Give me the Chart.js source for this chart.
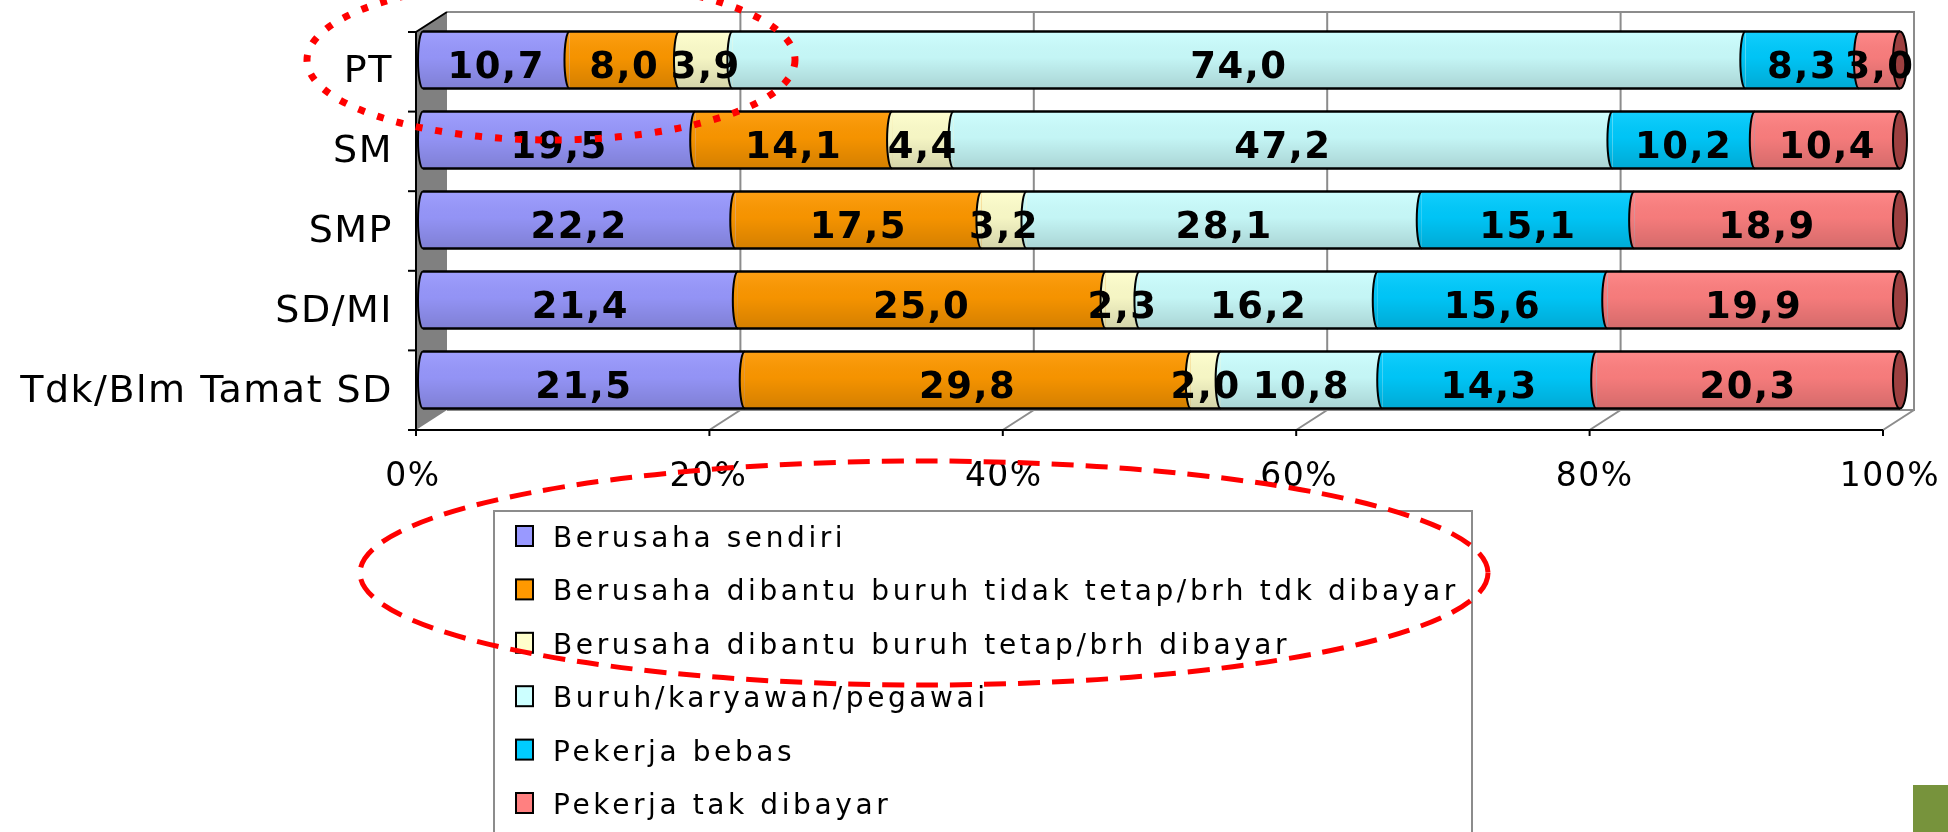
<!DOCTYPE html>
<html>
<head>
<meta charset="utf-8">
<script src="https://cdn.jsdelivr.net/npm/chart.js@4.4.1/dist/chart.umd.min.js"></script>
<style>
  html, body { margin: 0; padding: 0; background: #fff; }
  #wrap { width: 1948px; height: 832px; }
</style>
</head>
<body>
<div id="wrap"><canvas id="chart" width="1948" height="832"></canvas></div>
<script>
// categories (top to bottom)
const categories = ["PT", "SM", "SMP", "SD/MI", "Tdk/Blm Tamat SD"];

// series names as in the legend
const seriesNames = [
  "Berusaha sendiri",
  "Berusaha dibantu buruh tidak tetap/brh tdk dibayar",
  "Berusaha dibantu buruh tetap/brh dibayar",
  "Buruh/karyawan/pegawai",
  "Pekerja bebas",
  "Pekerja tak dibayar"
];

// values shown on the bars (percent)
const berusahaSendiri   = [10.7, 19.5, 22.2, 21.4, 21.5];
const dibantuTidakTetap = [8.0, 14.1, 17.5, 25.0, 29.8];
const dibantuTetap      = [3.9, 4.4, 3.2, 2.3, 2.0];
const buruhKaryawan     = [74.0, 47.2, 28.1, 16.2, 10.8];
const pekerjaBebas      = [8.3, 10.2, 15.1, 15.6, 14.3];
const pekerjaTakDibayar = [3.0, 10.4, 18.9, 19.9, 20.3];

const xTicks = [0, 20, 40, 60, 80, 100];

const seriesColors = ["#9999FF", "#FF9900", "#FFFFCC", "#CCFFFF", "#00CCFF", "#FF8080"];

const seriesValues = [berusahaSendiri, dibantuTidakTetap, dibantuTetap, buruhKaryawan, pekerjaBebas, pekerjaTakDibayar];

// 100% stacked: each row is scaled to its own total
const rowTotals = categories.map((c, i) => seriesValues.reduce((s, arr) => s + arr[i], 0));

const FONT = "'DejaVu Sans', Verdana, sans-serif";
const DEPTH_X = 31, DEPTH_Y = 20;

function fmt(v) {
  return v.toFixed(1).replace(".", ",");
}

// front/back planes of the 3D box, from the chart area
function frameOf(chart) {
  const ca = chart.chartArea;
  const f = { l: ca.left - 7, r: ca.right - 17, t: ca.top + 12, b: ca.bottom + 10 };
  f.bl = f.l + DEPTH_X; f.br = f.r + DEPTH_X; f.bt = f.t - DEPTH_Y; f.bb = f.b - DEPTH_Y;
  return f;
}

function noPadding(scale) {
  scale.paddingTop = 0; scale.paddingBottom = 0;
  scale.paddingLeft = 0; scale.paddingRight = 0;
}

const spacingPlugin = {
  id: "spacing",
  beforeLayout(chart) { chart.ctx.letterSpacing = "1.5px"; },
  beforeDraw(chart) { chart.ctx.letterSpacing = "1.5px"; }
};

// walls, floor lines and axes of the 3D frame
const framePlugin = {
  id: "frame3d",
  beforeDatasetsDraw(chart) {
    const ctx = chart.ctx;
    const f = frameOf(chart);
    ctx.save();
    ctx.lineWidth = 2;
    ctx.strokeStyle = "#8c8c8c";
    // back wall
    ctx.beginPath();
    ctx.moveTo(f.bl, f.bt); ctx.lineTo(f.br, f.bt); ctx.lineTo(f.br, f.bb); ctx.lineTo(f.bl, f.bb);
    ctx.stroke();
    xTicks.forEach(v => {
      if (v === 0) return;
      const xb = f.bl + (f.br - f.bl) * v / 100;
      const xf = f.l + (f.r - f.l) * v / 100;
      ctx.beginPath();
      ctx.moveTo(xb, f.bt); ctx.lineTo(xb, f.bb); ctx.lineTo(xf, f.b);
      ctx.stroke();
    });
    // left wall
    ctx.fillStyle = "#808080";
    ctx.beginPath();
    ctx.moveTo(f.l, f.t); ctx.lineTo(f.bl, f.bt); ctx.lineTo(f.bl, f.bb); ctx.lineTo(f.l, f.b);
    ctx.closePath();
    ctx.fill();
    ctx.strokeStyle = "#000";
    ctx.lineWidth = 2;
    ctx.beginPath();
    ctx.moveTo(f.bl, f.bt); ctx.lineTo(f.l, f.t); ctx.lineTo(f.l, f.b); ctx.lineTo(f.r, f.b);
    ctx.stroke();
    // ticks
    xTicks.forEach(v => {
      const x = f.l + (f.r - f.l) * v / 100;
      ctx.beginPath(); ctx.moveTo(x, f.b); ctx.lineTo(x, f.b + 6); ctx.stroke();
    });
    for (let k = 0; k <= categories.length; k++) {
      const y = f.t + (f.b - f.t) * k / categories.length;
      ctx.beginPath(); ctx.moveTo(f.l - 8, y); ctx.lineTo(f.l, y); ctx.stroke();
    }
    ctx.restore();
  }
};

// cylinder look: shading, rounded joins, end cap, value labels
const barPlugin = {
  id: "barLook",
  afterDatasetsDraw(chart) {
    const ctx = chart.ctx;
    const n = chart.data.datasets.length;
    ctx.save();
    categories.forEach((c, i) => {
      const els = chart.data.datasets.map((ds, d) => chart.getDatasetMeta(d).data[i]);
      const h = els[0].height;
      const y = els[0].y;
      const top = y - h / 2, bottom = y + h / 2;
      const shade = ctx.createLinearGradient(0, top, 0, bottom);
      shade.addColorStop(0, "rgba(255,255,255,0.08)");
      shade.addColorStop(0.45, "rgba(0,0,0,0.04)");
      shade.addColorStop(1, "rgba(0,0,0,0.17)");
      const rx = 5;
      els.forEach((el, d) => {
        const left = Math.min(el.x, el.base), right = Math.max(el.x, el.base);
        ctx.fillStyle = shade;
        ctx.fillRect(left, top, right - left, h);
        // rounded left edge of the segment
        ctx.beginPath();
        ctx.ellipse(left, y, rx, h / 2, 0, Math.PI / 2, Math.PI * 3 / 2);
        ctx.closePath();
        ctx.fillStyle = seriesColors[d];
        ctx.fill();
        ctx.fillStyle = shade;
        ctx.fill();
        ctx.beginPath();
        ctx.ellipse(left, y, rx, h / 2, 0, Math.PI / 2, Math.PI * 3 / 2);
        ctx.strokeStyle = "#000";
        ctx.lineWidth = 2;
        ctx.stroke();
      });
      const first = els[0], last = els[n - 1];
      const x0 = Math.min(first.x, first.base), x1 = Math.max(last.x, last.base);
      ctx.strokeStyle = "#000";
      ctx.lineWidth = 2.5;
      ctx.beginPath();
      ctx.moveTo(x0, top); ctx.lineTo(x1, top);
      ctx.moveTo(x0, bottom); ctx.lineTo(x1, bottom);
      ctx.stroke();
      // end cap
      ctx.beginPath();
      ctx.ellipse(x1, y, 7, h / 2, 0, 0, Math.PI * 2);
      ctx.fillStyle = seriesColors[n - 1];
      ctx.fill();
      ctx.fillStyle = "rgba(60,0,0,0.5)";
      ctx.fill();
      ctx.lineWidth = 2;
      ctx.stroke();
      // value labels
      ctx.fillStyle = "#000";
      ctx.font = "bold 37px " + FONT;
      ctx.textAlign = "center";
      ctx.textBaseline = "alphabetic";
      els.forEach((el, d) => {
        const cx = (el.x + el.base) / 2;
        ctx.fillText(fmt(seriesValues[d][i]), cx, y + 18);
      });
    });
    ctx.restore();
  }
};

// legend box, annotation marks
const overlayPlugin = {
  id: "overlay",
  afterDraw(chart) {
    const ctx = chart.ctx;
    ctx.save();
    // legend
    const box = { x: 494, y: 511, w: 978, h: 340 };
    ctx.fillStyle = "#fff";
    ctx.fillRect(box.x, box.y, box.w, box.h);
    ctx.strokeStyle = "#8c8c8c";
    ctx.lineWidth = 2;
    ctx.strokeRect(box.x, box.y, box.w, box.h);
    ctx.font = "28px " + FONT;
    ctx.letterSpacing = "3.6px";
    ctx.textAlign = "left";
    ctx.textBaseline = "alphabetic";
    chart.data.datasets.forEach((ds, d) => {
      const base = 547 + d * 53.4;
      ctx.fillStyle = ds.backgroundColor;
      ctx.fillRect(516, base - 21, 17, 20);
      ctx.strokeStyle = "#000";
      ctx.lineWidth = 2;
      ctx.strokeRect(516, base - 21, 17, 20);
      ctx.fillStyle = "#000";
      ctx.fillText(ds.label, 553, base);
    });
    // red dotted ellipse around PT
    ctx.strokeStyle = "#ff0000";
    ctx.lineWidth = 7;
    ctx.setLineDash([7, 13]);
    ctx.beginPath();
    ctx.ellipse(551, 60, 244, 80, 0, 0, Math.PI * 2);
    ctx.stroke();
    // red dashed ellipse around legend
    ctx.lineWidth = 5;
    ctx.setLineDash([22, 12]);
    ctx.beginPath();
    ctx.ellipse(924, 573, 564, 112, 0, 0, Math.PI * 2);
    ctx.stroke();
    ctx.setLineDash([]);
    // green corner block
    ctx.fillStyle = "#77933C";
    ctx.fillRect(1913, 785, 35, 47);
    ctx.restore();
  }
};

new Chart(document.getElementById("chart"), {
  type: "bar",
  data: {
    labels: categories,
    datasets: seriesNames.map((name, d) => ({
      label: name,
      data: seriesValues[d].map((v, i) => v / rowTotals[i] * 100),
      backgroundColor: seriesColors[d],
      borderWidth: 0,
      barPercentage: 0.7125,
      categoryPercentage: 1
    }))
  },
  options: {
    indexAxis: "y",
    responsive: false,
    animation: false,
    devicePixelRatio: 1,
    layout: { padding: { left: 0, right: 48, top: 20, bottom: 0 } },
    plugins: {
      legend: { display: false },
      tooltip: { enabled: false }
    },
    scales: {
      x: {
        stacked: true,
        min: 0,
        max: 100,
        afterBuildTicks(scale) { scale.ticks = xTicks.map(v => ({ value: v })); },
        ticks: {
          callback: v => v + "%",
          color: "#000",
          font: { family: FONT, size: 33 },
          padding: 38,
          labelOffset: -10,
          maxRotation: 0
        },
        grid: { display: false, drawTicks: false },
        border: { display: false },
        afterFit(scale) { scale.height = 412; noPadding(scale); }
      },
      y: {
        stacked: true,
        ticks: {
          color: "#000",
          font: { family: FONT, size: 38 },
          padding: 30,
          labelOffset: 12
        },
        grid: { display: false, drawTicks: false },
        border: { display: false },
        afterFit(scale) { scale.width = 423; noPadding(scale); }
      }
    }
  },
  plugins: [spacingPlugin, framePlugin, barPlugin, overlayPlugin]
});
</script>
</body>
</html>
